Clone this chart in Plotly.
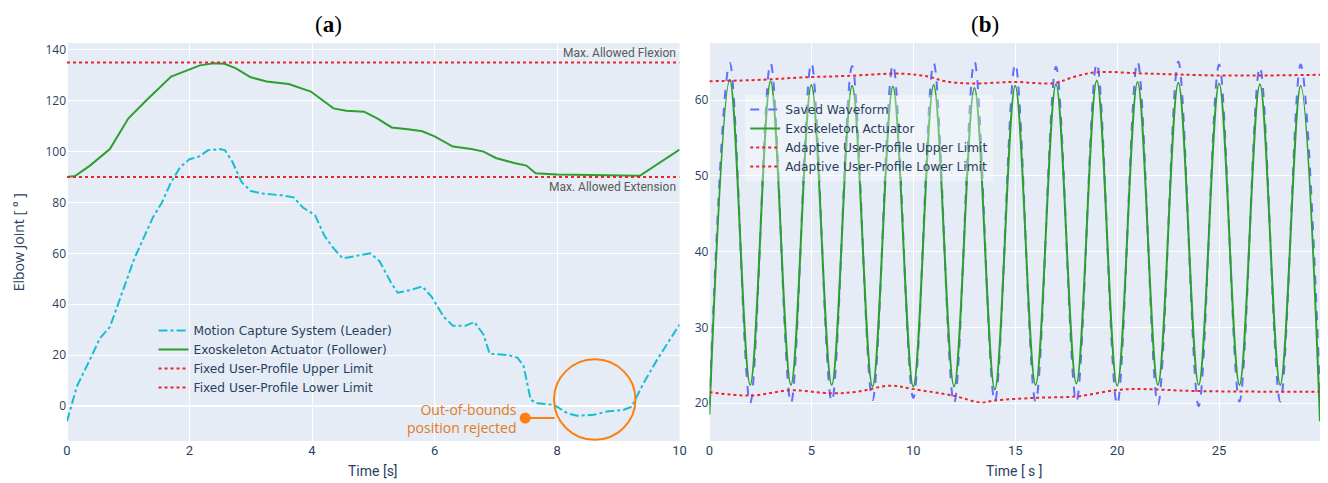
import plotly.graph_objects as go

# ---------------- Panel (a) data ----------------
t_leader = [0, 0.16, 0.37, 0.54, 0.7, 0.86, 1.0, 1.1, 1.25, 1.4, 1.55, 1.7, 1.85, 2.0, 2.15,
            2.3, 2.5, 2.58, 2.7, 2.85, 3.0, 3.2, 3.5, 3.7, 3.85, 4.05, 4.2, 4.35, 4.5, 4.75,
            4.95, 5.1, 5.3, 5.4, 5.6, 5.8, 5.95, 6.15, 6.3, 6.5, 6.65, 6.8, 6.9, 7.2, 7.35,
            7.45, 7.57, 7.68, 7.95, 8.17, 8.33, 8.6, 8.81, 9.08, 9.22, 9.41, 9.63, 9.84, 10.0]
leader = [-6, 7.6, 18, 26.7, 31, 41.7, 51, 58, 66, 74, 80, 88, 94, 97, 98,
          100.5, 101, 100.5, 96, 88, 84.5, 83.5, 82.8, 82, 78, 75, 67, 62, 58, 59,
          60, 57, 48, 44.5, 45.5, 47, 43, 35, 31.5, 31.5, 33, 28, 20.5, 20, 19,
          16, 2.4, 1, 0.4, -2.9, -3.9, -3.5, -2.2, -1.6, -0.3, 8.9, 18, 26, 32]

t_follower = [0, 0.13, 0.37, 0.7, 1.0, 1.3, 1.7, 1.96, 2.17, 2.39, 2.57, 2.75, 3.0, 3.26,
              3.62, 3.98, 4.35, 4.56, 4.85, 5.07, 5.3, 5.6, 5.8, 6.0, 6.3, 6.6, 6.8, 7.0,
              7.3, 7.5, 7.65, 8.0, 9.35, 10.0]
follower = [90, 90.4, 94.4, 101, 113, 120.3, 129.5, 132.1, 133.9, 134.7, 134.5, 132.8, 129.2,
            127.6, 126.6, 123.6, 117, 116.1, 115.7, 113, 109.5, 108.7, 108, 106, 102, 101,
            100, 97.5, 95.5, 94.5, 91.5, 91, 90.5, 100.8]

t_fixed = [0, 10]
fixed_upper = [135, 135]
fixed_lower = [90, 90]

# rejected point marker
rejected_t = [7.48]
rejected_v = [-4.8]

# ---------------- Panel (b) data ----------------
t_wave = [0, 1, 2, 3, 4, 5, 6, 7, 8, 9, 10, 11, 12, 13, 14, 15, 16, 17, 18, 19, 20,
          21, 22, 23, 24, 25, 26, 27, 28, 29, 29.95]
saved_wave = [19.8, 64.9, 20.0, 64.9, 20.0, 64.9, 20.2, 64.5, 20.4, 64.7, 20.7, 64.9, 20.0,
              65.1, 20.2, 64.8, 20.2, 64.4, 20.2, 64.9, 19.8, 65.1, 19.8, 65.1, 19.6, 64.7,
              20.2, 64.4, 20.2, 64.7, 21.0]
exo_wave = [18.5, 62.7, 22.4, 62.5, 22.4, 62.0, 22.4, 61.9, 22.2, 61.8, 22.2, 62.0, 22.2,
            61.6, 21.8, 61.9, 22.4, 62.1, 22.6, 62.6, 22.3, 62.4, 22.4, 62.3, 22.4, 62.2,
            22.4, 62.1, 22.4, 61.9, 17.6]

t_upper = [0, 2.6, 4.5, 6.7, 9.45, 10.75, 11.56, 12.86, 14.98, 16.9, 17.9, 19.04, 21.0,
           22.9, 25.4, 29.95]
adapt_upper = [62.5, 62.7, 63.0, 63.2, 63.5, 63.1, 62.5, 62.2, 62.4, 62.25, 63.1, 63.7,
               63.55, 63.4, 63.25, 63.35]

t_lower = [0, 2.05, 4.0, 5.95, 7.25, 8.87, 10.0, 12.0, 13.3, 14.0, 15.95, 18.07, 20.0,
           21.3, 23.8, 29.95]
adapt_lower = [21.45, 21.0, 21.7, 21.3, 21.5, 22.3, 21.85, 20.96, 20.1, 20.35, 20.7, 20.9,
               21.75, 21.85, 21.6, 21.5]

CYAN = "#17becf"
GREEN = "#2ca02c"
RED = "#e8262a"
BLUE = "#636efa"
ORANGE = "#ff7f0e"
LEG_FONT = dict(family="DejaVu Sans", size=12.2, color="#2a3f5f")
NARROW = "Roboto, Open Sans, sans-serif"

fig = go.Figure()

fig.add_trace(go.Scatter(x=t_leader, y=leader, mode="lines", name="Motion Capture System (Leader)",
                         line=dict(color=CYAN, width=2, dash="dashdot"), xaxis="x", yaxis="y",
                         legend="legend"))
fig.add_trace(go.Scatter(x=t_follower, y=follower, mode="lines", name="Exoskeleton Actuator (Follower)",
                         line=dict(color=GREEN, width=2), xaxis="x", yaxis="y", legend="legend"))
fig.add_trace(go.Scatter(x=t_fixed, y=fixed_upper, mode="lines", name="Fixed User-Profile Upper Limit",
                         line=dict(color=RED, width=2, dash="dot"), xaxis="x", yaxis="y",
                         legend="legend"))
fig.add_trace(go.Scatter(x=t_fixed, y=fixed_lower, mode="lines", name="Fixed User-Profile Lower Limit",
                         line=dict(color=RED, width=2, dash="dot"), xaxis="x", yaxis="y",
                         legend="legend"))
fig.add_trace(go.Scatter(x=rejected_t, y=rejected_v, mode="markers", showlegend=False,
                         marker=dict(color=ORANGE, size=11), xaxis="x", yaxis="y"))

fig.add_trace(go.Scatter(x=t_wave, y=saved_wave, mode="lines", name="Saved Waveform",
                         line=dict(color=BLUE, width=2, dash="dash", shape="spline"),
                         xaxis="x2", yaxis="y2", legend="legend2"))
fig.add_trace(go.Scatter(x=t_wave, y=exo_wave, mode="lines", name="Exoskeleton Actuator",
                         line=dict(color=GREEN, width=2, shape="spline"),
                         xaxis="x2", yaxis="y2", legend="legend2"))
fig.add_trace(go.Scatter(x=t_upper, y=adapt_upper, mode="lines", name="Adaptive User-Profile Upper Limit",
                         line=dict(color=RED, width=2, dash="dot", shape="spline"),
                         xaxis="x2", yaxis="y2", legend="legend2"))
fig.add_trace(go.Scatter(x=t_lower, y=adapt_lower, mode="lines", name="Adaptive User-Profile Lower Limit",
                         line=dict(color=RED, width=2, dash="dot", shape="spline"),
                         xaxis="x2", yaxis="y2", legend="legend2"))

L, R, T, B = 67, 1, 43, 42
W, H = 1328, 483
PW, PH = W - L - R, H - T - B


def px(xp):
    return (xp - L) / PW


def py(yp):
    return (H - B - yp) / PH


axis_common = dict(showgrid=True, gridcolor="white", zeroline=True, zerolinecolor="white",
                   zerolinewidth=2, ticks="", showline=False)

fig.update_layout(
    width=W, height=H,
    margin=dict(l=L, r=R, t=T, b=B),
    template="plotly",
    plot_bgcolor="#e5ecf6",
    paper_bgcolor="white",
    font=dict(family="Open Sans, sans-serif", size=12, color="#2a3f5f"),
    xaxis=dict(domain=[0, px(683)], range=[0, 10], dtick=2, anchor="y",
               tickfont=dict(family=NARROW, size=13), **axis_common),
    yaxis=dict(domain=[0, 1], range=[-13.8, 142.7], dtick=20, anchor="x", **axis_common),
    xaxis2=dict(domain=[px(713), 1], range=[0, 29.95], dtick=5, anchor="y2",
                tickfont=dict(family=NARROW, size=13), **axis_common),
    yaxis2=dict(domain=[0, 1], range=[15.0, 67.55], dtick=10, anchor="x2", **axis_common),
    legend=dict(x=px(154), y=py(316), xanchor="left", yanchor="top", bgcolor="rgba(0,0,0,0)",
                font=LEG_FONT, tracegroupgap=0),
    legend2=dict(x=px(749), y=py(95), xanchor="left", yanchor="top",
                 bgcolor="rgba(255,255,255,0.35)", font=LEG_FONT, tracegroupgap=0),
    showlegend=True,
    shapes=[
        dict(type="circle", xref="x", yref="y", x0=7.95, x1=9.28, y0=-13.3, y1=18.3,
             line=dict(color=ORANGE, width=2)),
        dict(type="line", xref="x", yref="y", x0=7.48, x1=7.96, y0=-4.8, y1=-4.8,
             line=dict(color=ORANGE, width=2)),
    ],
    annotations=[
        dict(text="(<b>a</b>)", x=px(330), y=py(25), xref="paper", yref="paper",
             xanchor="center", yanchor="middle", showarrow=False,
             font=dict(family="Liberation Serif, serif", size=23, color="black")),
        dict(text="(<b>b</b>)", x=px(990), y=py(25), xref="paper", yref="paper",
             xanchor="center", yanchor="middle", showarrow=False,
             font=dict(family="Liberation Serif, serif", size=23, color="black")),
        dict(text="Elbow Joint [ ° ]", x=px(18), y=0.5, xref="paper", yref="paper",
             xanchor="center", yanchor="middle", textangle=-90, showarrow=False,
             font=dict(size=14, color="#2a3f5f")),
        dict(text="Time [s]", x=px(375), y=py(471), xref="paper", yref="paper",
             xanchor="center", yanchor="middle", showarrow=False,
             font=dict(family=NARROW, size=14, color="#2a3f5f")),
        dict(text="Time [ s ]", x=px(1020), y=py(471), xref="paper", yref="paper",
             xanchor="center", yanchor="middle", showarrow=False,
             font=dict(family=NARROW, size=14, color="#2a3f5f")),
        dict(text="Max. Allowed Flexion", x=10, y=135, xref="x", yref="y", xanchor="right",
             yanchor="bottom", yshift=1, xshift=-2, showarrow=False,
             font=dict(family=NARROW, size=12, color="#5a5a5a")),
        dict(text="Max. Allowed Extension", x=10, y=90, xref="x", yref="y", xanchor="right",
             yanchor="top", yshift=-1, xshift=-2, showarrow=False,
             font=dict(family=NARROW, size=12, color="#5a5a5a")),
        dict(text="Out-of-bounds<br>position rejected", x=7.38, y=-4.8, xref="x", yref="y",
             xanchor="right", yanchor="middle", align="right", showarrow=False,
             font=dict(size=14, color="#e07b22")),
    ],
)

fig.write_html("out.html")
